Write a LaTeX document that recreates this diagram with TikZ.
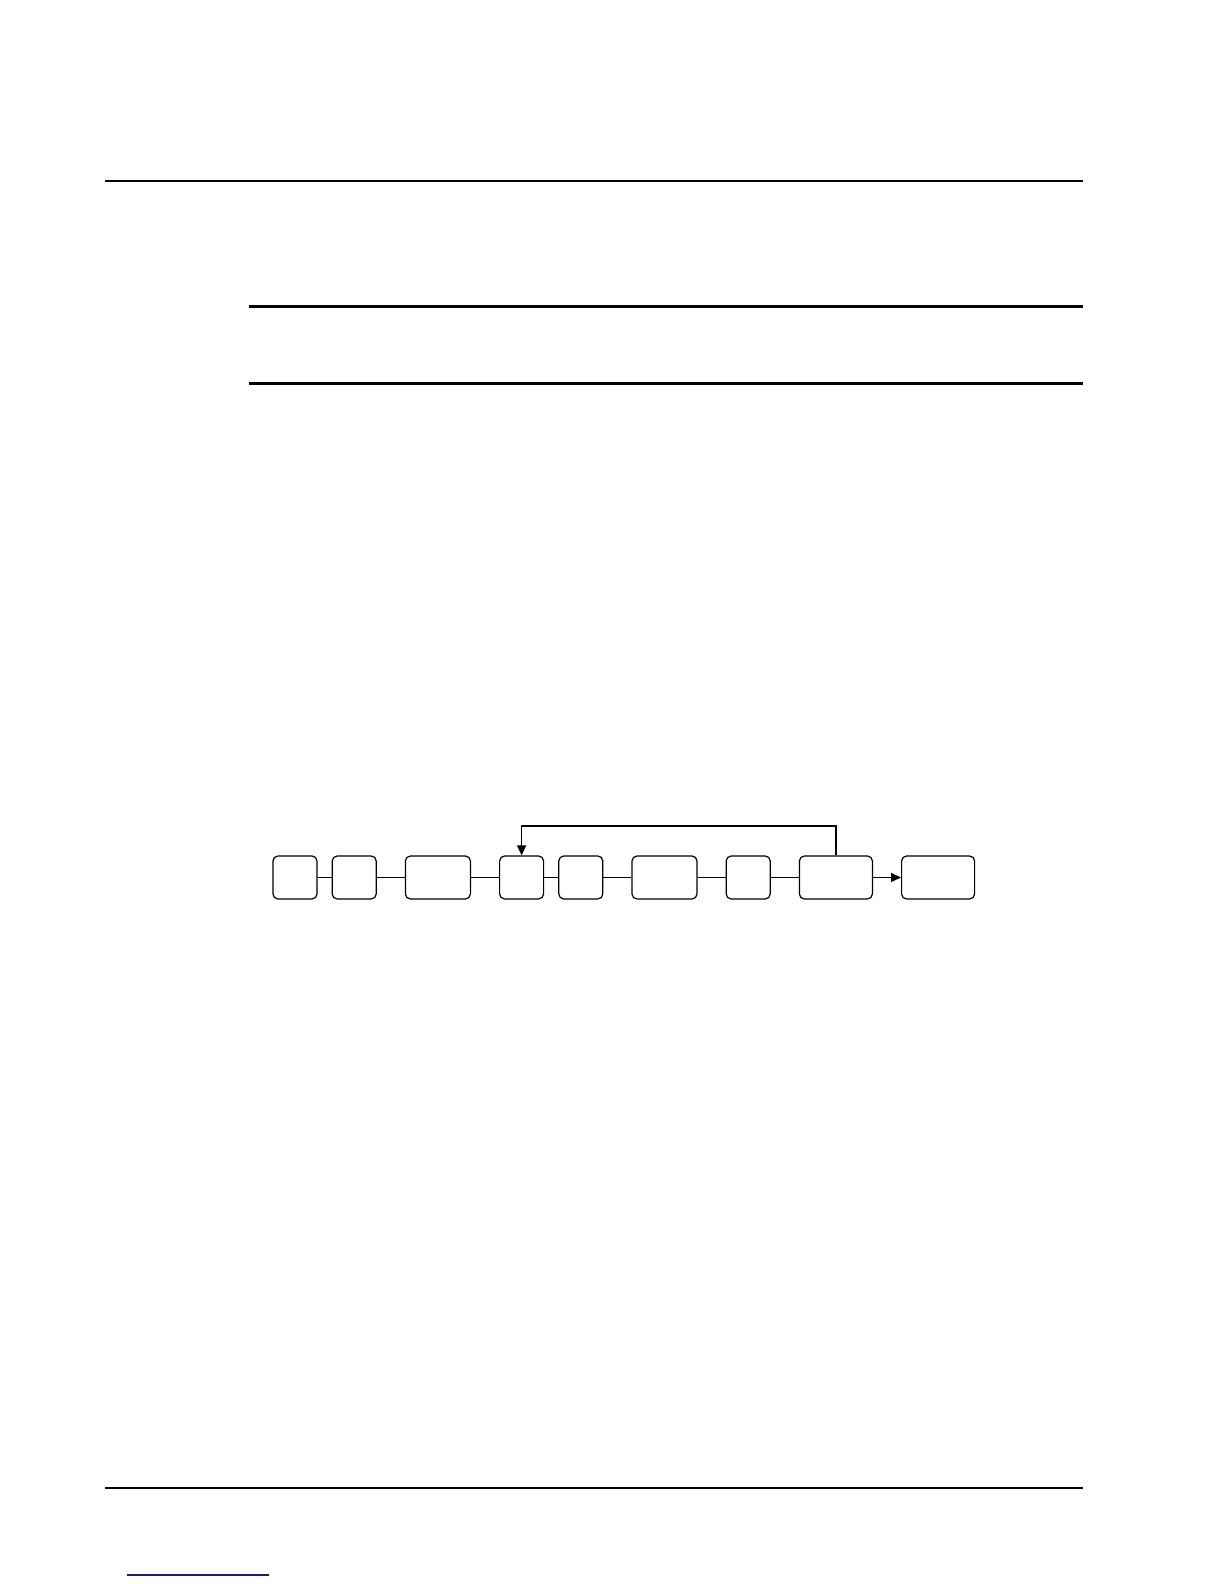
\documentclass[tikz,border=0pt]{standalone}
\usetikzlibrary{positioning,arrows.meta}
\definecolor{linkblue}{RGB}{26,26,128}
\begin{document}
\begin{tikzpicture}[x=0.5pt,y=0.5pt,
		node distance=14pt,
		rule/.style={line width=1pt},
		heavyrule/.style={line width=1.5pt},
		fwd/.style={-{Triangle[length=5pt,width=4.5pt]}}
		]
		\tikzstyle{key}=[draw,line width=0.6pt,rounded corners=2.5pt,inner sep=0pt,minimum height=21.5pt,minimum width=22pt]
		\tikzstyle{midkey}=[key,minimum width=32.5pt]
		\tikzstyle{widekey}=[key,minimum width=36.5pt]
		\useasboundingbox (0,0) rectangle (1224,1584);
		
		% page rules
		\draw[rule] (105,1403) -- (1083,1403);
		\draw[heavyrule] (249,1277) -- (1083,1277);
		\draw[heavyrule] (249,1200) -- (1083,1200);
		\draw[rule] (105,96) -- (1083,96);
		\draw[linkblue,line width=0.6pt] (127,9) -- (269,9);
		
		% key sequence
		\node[key] (k1) at (295,706.5) {};
		\node[key,right=7pt of k1] (k2) {};
		\node[midkey,right=of k2] (k3) {};
		\node[key,right=of k3] (k4) {};
		\node[key,right=7pt of k4] (k5) {};
		\node[midkey,right=of k5] (k6) {};
		\node[key,right=of k6] (k7) {};
		\node[widekey,right=of k7] (k8) {};
		\node[widekey,right=of k8] (k9) {};
		
		\draw[line width=0.6pt] (k1) -- (k2);
		\draw[line width=0.6pt] (k2) -- (k3);
		\draw[line width=0.6pt] (k3) -- (k4);
		\draw[line width=0.6pt] (k4) -- (k5);
		\draw[line width=0.6pt] (k5) -- (k6);
		\draw[line width=0.6pt] (k6) -- (k7);
		\draw[line width=0.6pt] (k7) -- (k8);
		\draw[line width=0.6pt,fwd] (k8) -- (k9);
		
		% repeat loop
		\coordinate (top) at (0,758);
		\draw[line width=0.6pt,fwd] (k8.north) -- (k8.north |- top) -- (k4.north |- top) -- (k4.north);
		\end{tikzpicture}
\end{document}
